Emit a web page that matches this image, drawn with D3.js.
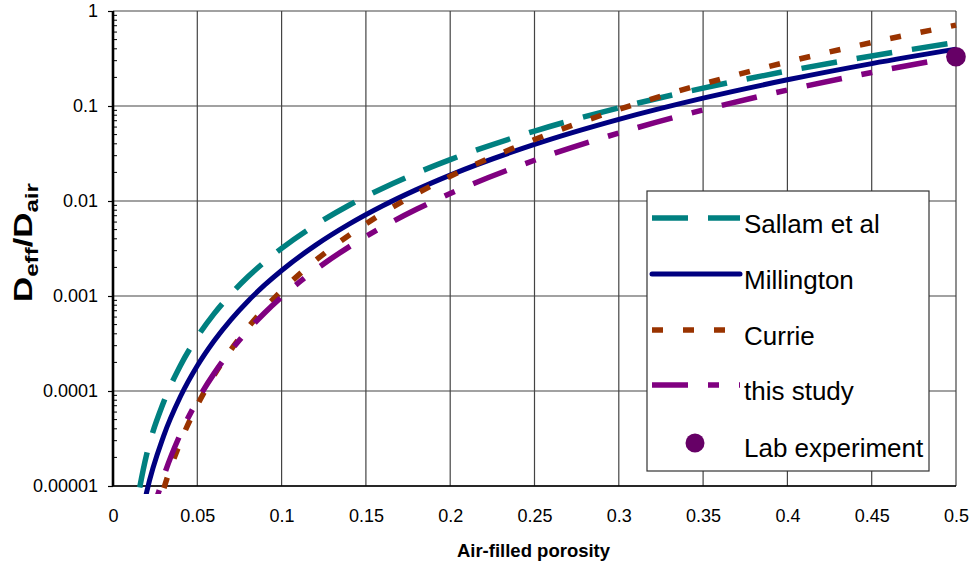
<!DOCTYPE html>
<html>
<head>
<meta charset="utf-8">
<script src="https://cdn.jsdelivr.net/npm/d3@7"></script>
<style>
  body { margin: 0; background: #fff; }
  svg { display: block; font-family: "Liberation Sans", Arial, sans-serif; }
</style>
</head>
<body>
<div id="wrapper"></div>
<script>
// values
const porosity = [0.01, 0.02, 0.03, 0.04, 0.05, 0.06, 0.07, 0.08, 0.09, 0.1,
  0.12, 0.14, 0.16, 0.18, 0.2, 0.25, 0.3, 0.35, 0.4, 0.45, 0.5];
const sallam = [2.52e-6, 2.16e-5, 7.61e-5, 1.856e-4, 3.707e-4, 6.52e-4, 1.051e-3, 1.592e-3, 2.293e-3, 3.176e-3,
  5.589e-3, 9.02e-3, 0.01364, 0.01965, 0.02724, 0.05443, 0.0957, 0.1544, 0.2336, 0.3366, 0.4667];
const millington = [8.62e-7, 8.68e-6, 3.356e-5, 8.75e-5, 1.843e-4, 3.382e-4, 5.654e-4, 8.82e-4, 1.307e-3, 1.857e-3,
  3.41e-3, 5.70e-3, 8.90e-3, 0.01317, 0.01873, 0.03936, 0.0723, 0.1209, 0.1886, 0.2794, 0.3969];
const currie = [1.136e-7, 1.818e-6, 9.20e-6, 2.908e-5, 7.10e-5, 1.472e-4, 2.728e-4, 4.653e-4, 7.453e-4, 1.136e-3,
  2.356e-3, 4.364e-3, 7.445e-3, 0.01193, 0.01818, 0.04438, 0.09202, 0.1705, 0.2908, 0.4658, 0.71];
const thisStudy = [2.335e-7, 2.873e-6, 1.246e-5, 3.532e-5, 7.92e-5, 1.532e-4, 2.676e-4, 4.342e-4, 6.655e-4, 9.74e-4,
  1.885e-3, 3.293e-3, 5.338e-3, 8.18e-3, 0.01198, 0.02686, 0.05198, 0.0908, 0.1472, 0.2256, 0.3302];
const labPorosity = [0.5];
const labValue = [0.33];

const seriesNames = ["Sallam et al", "Millington", "Currie", "this study"];
const xTicks = [0, 0.05, 0.1, 0.15, 0.2, 0.25, 0.3, 0.35, 0.4, 0.45, 0.5];
const xTickLabels = ["0", "0.05", "0.1", "0.15", "0.2", "0.25", "0.3", "0.35", "0.4", "0.45", "0.5"];
const yTicks = [1e-5, 1e-4, 1e-3, 1e-2, 1e-1, 1];
const yTickLabels = ["0.00001", "0.0001", "0.001", "0.01", "0.1", "1"];

const W = 970, H = 565;
const pLeft = 113, pRight = 956, pTop = 11, pBottom = 486;

const svg = d3.select("#wrapper").append("svg")
  .attr("width", W).attr("height", H);

const x = d3.scaleLinear().domain([0, 0.5]).range([pLeft, pRight]);
const y = d3.scaleLog().domain([1e-5, 1]).range([pBottom, pTop]);

// grid
svg.append("g").selectAll("line").data(yTicks).enter().append("line")
  .attr("x1", pLeft).attr("x2", pRight)
  .attr("y1", d => y(d)).attr("y2", d => y(d))
  .attr("stroke", "#444").attr("stroke-width", 1.2);
svg.append("g").selectAll("line").data(xTicks.slice(1)).enter().append("line")
  .attr("x1", d => x(d)).attr("x2", d => x(d))
  .attr("y1", pTop).attr("y2", pBottom)
  .attr("stroke", "#444").attr("stroke-width", 1.2);

// minor ticks inside the left axis
const minor = [];
for (let e = -5; e < 0; e++) for (let m = 2; m <= 9; m++) minor.push(m * Math.pow(10, e));
svg.append("g").selectAll("line").data(minor).enter().append("line")
  .attr("x1", pLeft).attr("x2", pLeft + 4)
  .attr("y1", d => y(d)).attr("y2", d => y(d))
  .attr("stroke", "#000").attr("stroke-width", 1);

// axes
const yAxis = svg.append("g").attr("transform", `translate(${pLeft},0)`)
  .call(d3.axisLeft(y).tickValues(yTicks).tickSize(5).tickPadding(10)
    .tickFormat((d, i) => yTickLabels[i]));
yAxis.select(".domain").remove();
yAxis.selectAll("text").attr("font-size", 18).attr("font-family", "Liberation Sans, Arial").attr("fill", "#000");
yAxis.selectAll("line").attr("stroke-width", 1.2);

const xAxis = svg.append("g").attr("transform", `translate(0,${pBottom})`)
  .call(d3.axisBottom(x).tickValues(xTicks).tickSize(0).tickPadding(23)
    .tickFormat((d, i) => xTickLabels[i]));
xAxis.select(".domain").remove();
xAxis.selectAll("text").attr("font-size", 18).attr("font-family", "Liberation Sans, Arial").attr("fill", "#000");

svg.append("line").attr("x1", pLeft).attr("x2", pRight).attr("y1", pBottom).attr("y2", pBottom)
  .attr("stroke", "#000").attr("stroke-width", 1.6);
svg.append("line").attr("x1", pLeft).attr("x2", pLeft).attr("y1", pTop).attr("y2", pBottom)
  .attr("stroke", "#000").attr("stroke-width", 2.6);

// curves
svg.append("defs").append("clipPath").attr("id", "plotclip")
  .append("rect").attr("x", pLeft - 5).attr("y", pTop - 5)
  .attr("width", pRight - pLeft + 10).attr("height", 494 - pTop + 5);

const styles = [
  { data: sallam, color: "#008080", width: 5.5, dash: "36,20" },
  { data: millington, color: "#000080", width: 5, dash: null },
  { data: currie, color: "#993300", width: 5.5, dash: "11,20" },
  { data: thisStudy, color: "#800080", width: 5.5, dash: "36,20,11,20" }
];

const line = d3.line()
  .curve(d3.curveMonotoneX)
  .x(d => x(d[0]))
  .y(d => y(d[1]));

const curves = svg.append("g").attr("clip-path", "url(#plotclip)");
styles.forEach(s => {
  curves.append("path")
    .attr("d", line(porosity.map((p, i) => [p, s.data[i]])))
    .attr("fill", "none")
    .attr("stroke", s.color)
    .attr("stroke-width", s.width)
    .attr("stroke-linejoin", "round")
    .attr("stroke-dasharray", s.dash);
});

svg.append("g").selectAll("circle").data(labPorosity).enter().append("circle")
  .attr("cx", d => x(d)).attr("cy", (d, i) => y(labValue[i]))
  .attr("r", 9.8).attr("fill", "#660066");

// legend
const lg = svg.append("g");
lg.append("rect").attr("x", 647).attr("y", 191).attr("width", 282).attr("height", 280)
  .attr("fill", "#fff").attr("stroke", "#333").attr("stroke-width", 1.2);
const rowY = [218, 274, 330, 385, 441];
styles.forEach((s, i) => {
  lg.append("line").attr("x1", 652).attr("x2", 740)
    .attr("y1", rowY[i]).attr("y2", rowY[i])
    .attr("stroke", s.color).attr("stroke-width", s.width)
    .attr("stroke-linecap", s.dash ? "butt" : "round")
    .attr("stroke-dasharray", s.dash);
  lg.append("text").attr("x", 744).attr("y", rowY[i] + 15)
    .attr("font-size", 26).text(seriesNames[i]);
});
lg.append("circle").attr("cx", 695).attr("cy", rowY[4] + 2).attr("r", 9.5).attr("fill", "#660066");
lg.append("text").attr("x", 744).attr("y", rowY[4] + 16)
  .attr("font-size", 26).text("Lab experiment");

// axis titles
svg.append("text").attr("x", 533.5).attr("y", 557)
  .attr("text-anchor", "middle").attr("font-weight", "bold").attr("font-size", 18.5)
  .text("Air-filled porosity");

const yl = svg.append("g").attr("transform", "translate(32,242.5) rotate(-90)");
const ylt = yl.append("text").attr("font-weight", "bold").attr("font-size", 26)
  .attr("text-anchor", "middle");
ylt.append("tspan").text("D");
ylt.append("tspan").attr("font-size", 18).attr("dy", 6).text("eff");
ylt.append("tspan").attr("dy", -6).text("/D");
ylt.append("tspan").attr("font-size", 18).attr("dy", 6).text("air");
const w = ylt.node().getComputedTextLength();
ylt.attr("transform", `scale(${119 / w},1)`);
</script>
</body>
</html>
